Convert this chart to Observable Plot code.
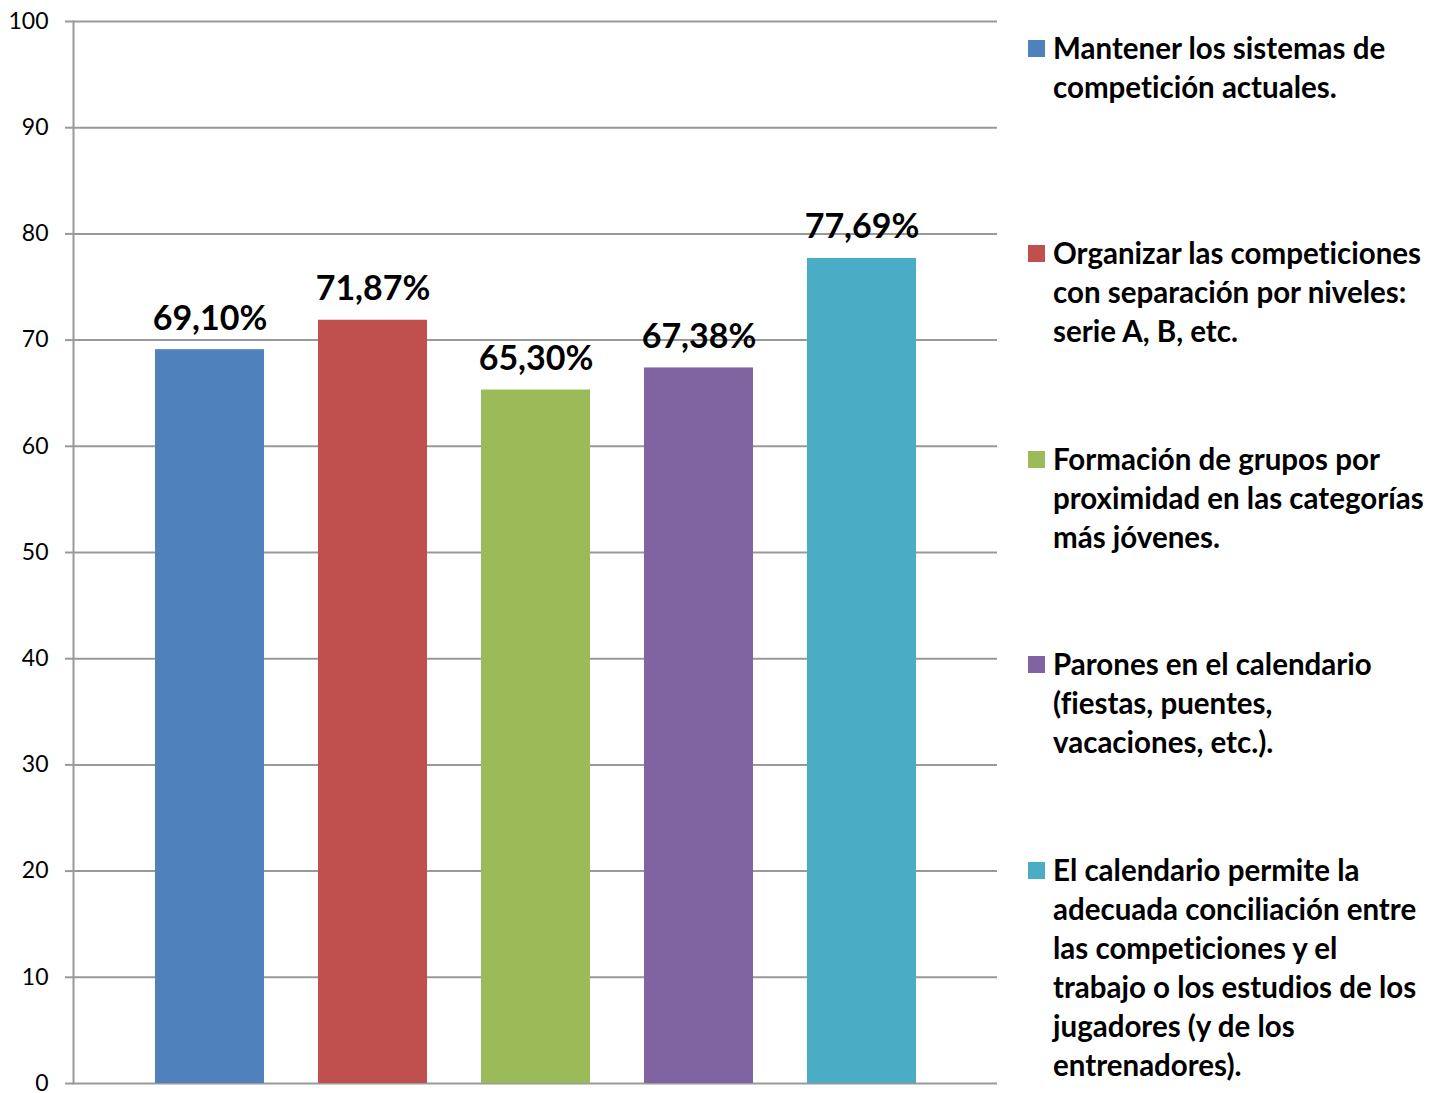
<!DOCTYPE html>
<html><head><meta charset="utf-8">
<script src="https://cdn.jsdelivr.net/npm/d3@7"></script>
<script src="https://cdn.jsdelivr.net/npm/@observablehq/plot@0.6"></script>
<style>
body{margin:0;background:#fff;}
#wrap{position:relative;width:1434px;height:1093px;overflow:hidden;}
#chart{position:absolute;left:0;top:0;}
#chart svg{font-variant-ligatures:none;}
.leg{position:absolute;left:1028px;font-family:Lato, sans-serif;font-weight:700;font-size:29.5px;line-height:39px;color:#000;white-space:nowrap;font-variant-ligatures:none;}
.sw{position:absolute;left:0;width:17px;height:17px;top:12px}
.lt{margin-left:25px}
</style></head><body>
<div id="wrap"><div id="chart"></div><div id="legend"></div></div>
<script>
const categories = [
  "Mantener los sistemas de competición actuales.",
  "Organizar las competiciones con separación por niveles: serie A, B, etc.",
  "Formación de grupos por proximidad en las categorías más jóvenes.",
  "Parones en el calendario (fiestas, puentes, vacaciones, etc.).",
  "El calendario permite la adecuada conciliación entre las competiciones y el trabajo o los estudios de los jugadores (y de los entrenadores)."
];
const values = [69.10, 71.87, 65.30, 67.38, 77.69];
const colors = ["#4F81BD", "#C0504D", "#9BBB59", "#8064A2", "#4BACC6"];
const yTicks = [0, 10, 20, 30, 40, 50, 60, 70, 80, 90, 100];
const legendLines = [
  ["Mantener los sistemas de", "competición actuales."],
  ["Organizar las competiciones", "con separación por niveles:", "serie A, B, etc."],
  ["Formación de grupos por", "proximidad en las categorías", "más jóvenes."],
  ["Parones en el calendario", "(fiestas, puentes,", "vacaciones, etc.)."],
  ["El calendario permite la", "adecuada conciliación entre", "las competiciones y el", "trabajo o los estudios de los", "jugadores (y de los", "entrenadores)."]
];

const data = categories.map((c, i) => ({cat: c, value: values[i]}));
const fmt = v => v.toFixed(2).replace(".", ",") + "%";

const plot = Plot.plot({
  width: 1000, height: 1093,
  marginLeft: 73, marginRight: 3, marginTop: 21, marginBottom: 10,
  style: {fontFamily: "Lato, sans-serif", fontSize: "23px", color: "#000", background: "transparent", overflow: "visible"},
  x: {domain: categories, paddingInner: 1/3, paddingOuter: 0.5, axis: null},
  y: {domain: [0, 100], nice: false},
  color: {domain: categories, range: colors},
  marks: [
    Plot.gridY(yTicks, {stroke: "#999", strokeOpacity: 1, strokeWidth: 2}),
    Plot.axisY(yTicks, {tickSize: 8, tickPadding: 17, stroke: "#999", strokeWidth: 2, fontSize: 23, label: null, tickFormat: d => String(d)}),
    Plot.frame({anchor: "left", stroke: "#999", strokeWidth: 2}),
    Plot.barY(data, {x: "cat", y: "value", fill: "cat"}),
    Plot.text(data, {x: "cat", y: "value", text: d => fmt(d.value), lineAnchor: "middle", dy: -31, fontSize: 34, fontWeight: "bold", fill: "#000"})
  ]
});
document.getElementById("chart").appendChild(plot);

const legend = document.getElementById("legend");
legendLines.forEach((lines, i) => {
  const item = document.createElement("div");
  item.className = "leg";
  item.style.top = (27.5 + i * 205.6) + "px";
  const sw = document.createElement("div");
  sw.className = "sw";
  sw.style.background = colors[i];
  item.appendChild(sw);
  const t = document.createElement("div");
  t.className = "lt";
  t.innerHTML = lines.map(l => l.replace(/&/g, "&amp;")).join("<br>");
  item.appendChild(t);
  legend.appendChild(item);
});
</script>
</body></html>
